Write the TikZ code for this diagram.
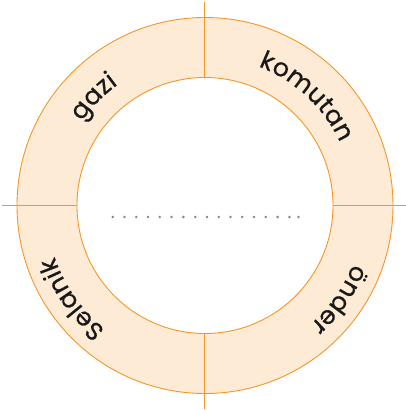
\documentclass[tikz,border=0pt]{standalone}
\usepackage{fontspec}
\setmainfont{Poppins}
\newfontface\wordface{Poppins}[FakeBold=0.6]
\definecolor{ringfill}{RGB}{253,235,214}
\definecolor{ringline}{RGB}{245,150,40}
\definecolor{dotgray}{RGB}{135,135,135}
\newcommand{\wordfont}{\wordface\fontsize{25}{29}\selectfont}
\newlength{\lw}
\newcommand{\measureletters}{%
  \foreach \ch in {g,a,z,i,k,o,m,u,t,n,ö,d,e,r,S,l} {%
    \settowidth{\lw}{\wordfont\ch}%
    \pgfmathsetmacro{\tmpw}{\lw}%
    \expandafter\xdef\csname lw@\ch\endcsname{\tmpw}%
  }%
}
\AtBeginDocument{\measureletters}
\newcommand{\arcword}[5]{% #1 name, #2 radius, #3 center angle, #4 spacing, #5 letters
  \gdef\sumw{0}%
  \foreach \ch in {#5} {%
    \edef\thisw{\csname lw@\ch\endcsname}%
    \pgfmathsetmacro{\tmps}{\sumw + \thisw + #4}%
    \xdef\sumw{\tmps}%
  }%
  \pgfmathsetmacro{\startang}{#3 + ((\sumw - #4)/2)/(#2)*180/pi}%
  \xdef\curang{\startang}%
  \foreach \ch [count=\k] in {#5} {%
    \edef\thisw{\csname lw@\ch\endcsname}%
    \pgfmathsetmacro{\midang}{\curang - (\thisw/2)/(#2)*180/pi}%
    \node[letter, rotate=\midang-90] (#1\k) at (\midang:#2) {\ch};
    \pgfmathsetmacro{\nextang}{\curang - (\thisw + #4)/(#2)*180/pi}%
    \xdef\curang{\nextang}%
  }%
}
\tikzset{
  ring/.style={draw=ringline, line width=0.9pt, fill=ringfill},
  crossline/.style={draw=ringline, line width=1.3pt},
  letter/.style={inner sep=0pt, anchor=base, font=\wordfont, text=black!90},
  dotmark/.style={circle, fill=dotgray, inner sep=0pt, minimum size=2.8pt}
}
\begin{document}
\begin{tikzpicture}[x=1pt,y=1pt]
\useasboundingbox (-205,-204.5) rectangle (201,205.5);
\coordinate (c) at (0,0);
% ring
\path[ring, even odd rule] (c) circle[radius=188] (c) circle[radius=128];
% cross lines
\coordinate (top1) at (-0.5,203.5); \coordinate (top2) at (-0.5,128);
\coordinate (bot1) at (-0.5,-128); \coordinate (bot2) at (-0.5,-203);
\coordinate (lef1) at (-203,-0.2); \coordinate (lef2) at (-128,-0.2);
\coordinate (rig1) at (128,-0.2); \coordinate (rig2) at (201,-0.2);
\draw[crossline] (top1) -- (top2);
\draw[crossline] (bot1) -- (bot2);
\draw[crossline] (lef1) -- (lef2);
\draw[crossline] (rig1) -- (rig2);
% words
\arcword{gz}{149}{135.7}{0.3}{g,a,z,i}
\arcword{km}{149}{47}{0.3}{k,o,m,u,t,a,n}
\arcword{on}{159}{-35}{0.3}{ö,n,d,e,r}
\arcword{sl}{159}{215}{0.3}{S,e,l,a,n,i,k}
% dotted line
\foreach \i in {0,...,15} {
  \node[dotmark] (d\i) at ({-92.3+11.78*\i},-11.5) {};
}
\node[dotmark] (d16) at (93.5,-11.5) {};
\end{tikzpicture}
\end{document}
